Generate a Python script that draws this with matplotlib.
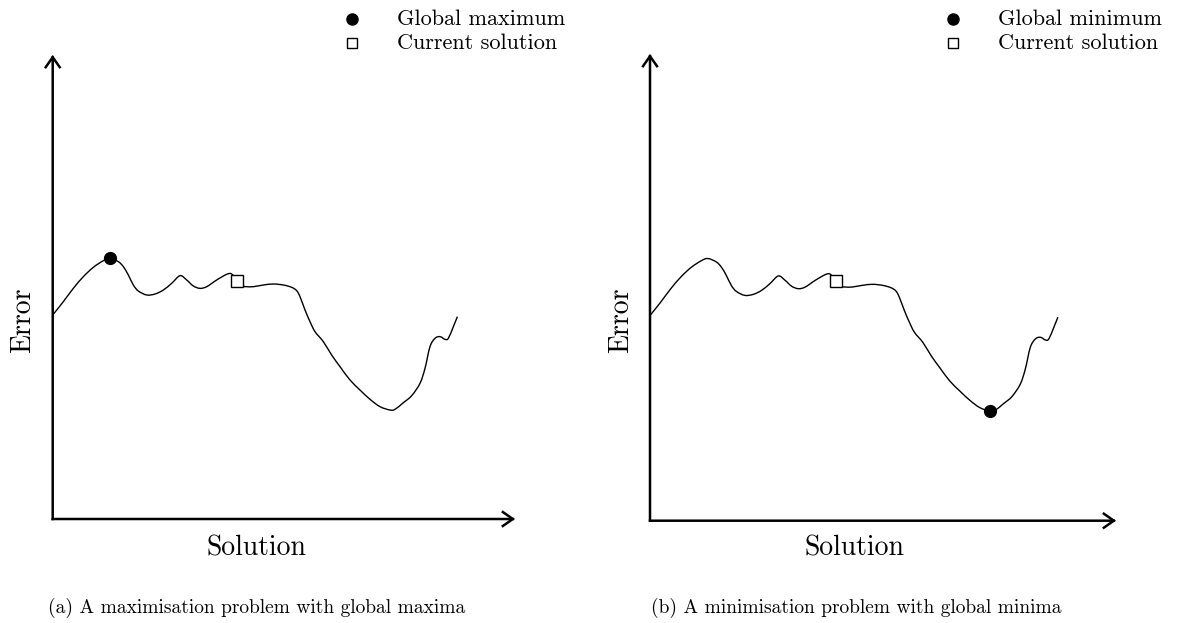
import matplotlib
matplotlib.use("Agg")
import matplotlib.pyplot as plt
from matplotlib.path import Path
from matplotlib.patches import PathPatch

plt.rcParams["font.family"] = ["cmr10", "DejaVu Serif"]
plt.rcParams["axes.formatter.use_mathtext"] = True

# Error landscape over the solution space (same curve in both panels)
solution = [0.00, 0.23, 0.446, 0.663, 0.879, 1.095, 1.239, 1.42, 1.528, 1.636,
            1.744, 1.852, 2.033, 2.213, 2.393, 2.573, 2.754, 2.898, 3.042, 3.186,
            3.331, 3.547, 3.763, 3.871, 3.994, 4.123, 4.196, 4.34, 4.556, 4.772,
            4.989, 5.169, 5.277, 5.349, 5.458, 5.566, 5.674, 5.854, 6.034, 6.215,
            6.431, 6.647, 6.864, 7.08, 7.296, 7.404, 7.585, 7.765, 7.945, 8.053,
            8.161, 8.27, 8.378, 8.486, 8.558, 8.666, 8.753]
error = [4.397, 4.684, 4.971, 5.223, 5.424, 5.567, 5.618, 5.546, 5.438, 5.259,
         5.043, 4.914, 4.828, 4.849, 4.935, 5.079, 5.244, 5.151, 5.022, 4.971,
         5.007, 5.151, 5.273, 5.280, 5.136, 5.022, 5.007, 5.007, 5.043, 5.065,
         5.043, 4.993, 4.921, 4.792, 4.504, 4.253, 4.037, 3.822, 3.534, 3.283,
         2.996, 2.780, 2.579, 2.421, 2.349, 2.364, 2.507, 2.658, 2.924, 3.247,
         3.714, 3.894, 3.930, 3.872, 3.894, 4.145, 4.361]

global_max = (1.239, 5.618)
global_min = (7.296, 2.349)
current_solution = (3.994, 5.136)

panels = [
    dict(rect=[0.04459, 0.16693, 0.39112, 0.74478], best=global_max,
         best_label="Global maximum",
         caption="(a) A maximisation problem with global maxima",
         legend_x=352, text_x=397, caption_x=257, error_x=23, solution_x=256),
    dict(rect=[0.54992, 0.16421, 0.39425, 0.74912], best=global_min,
         best_label="Global minimum",
         caption="(b) A minimisation problem with global minima",
         legend_x=953, text_x=998, caption_x=856, error_x=621, solution_x=855),
]


def smooth_path(xs, ys):
    """Bezier path passing through every point (Catmull-Rom tangents)."""
    pts = list(zip(xs, ys))
    verts = [pts[0]]
    codes = [Path.MOVETO]
    n = len(pts)
    for i in range(n - 1):
        p0 = pts[i - 1] if i > 0 else pts[i]
        p1 = pts[i]
        p2 = pts[i + 1]
        p3 = pts[i + 2] if i + 2 < n else pts[i + 1]
        c1 = (p1[0] + (p2[0] - p0[0]) / 6, p1[1] + (p2[1] - p0[1]) / 6)
        c2 = (p2[0] - (p3[0] - p1[0]) / 6, p2[1] - (p3[1] - p1[1]) / 6)
        verts += [c1, c2, p2]
        codes += [Path.CURVE4] * 3
    return Path(verts, codes)


W, H = 1182, 623
fig = plt.figure(figsize=(W / 100, H / 100), dpi=100)

arrow = dict(arrowstyle="->,head_length=0.4,head_width=0.28", lw=1.8,
             color="black", shrinkA=0, shrinkB=0, mutation_scale=18,
             capstyle="projecting", joinstyle="miter")

for p in panels:
    ax = fig.add_axes(p["rect"])
    ax.set_xlim(0, 10)
    ax.set_ylim(0, 10)
    ax.axis("off")

    # axes drawn as arrows from the origin
    ax.annotate("", xy=(10, 0), xytext=(0, 0), arrowprops=arrow,
                annotation_clip=False)
    ax.annotate("", xy=(0, 10), xytext=(0, 0), arrowprops=arrow,
                annotation_clip=False)

    ax.add_patch(PathPatch(smooth_path(solution, error), facecolor="none",
                           edgecolor="black", lw=1.0, clip_on=False))
    ax.plot(*p["best"], "o", color="black", ms=8.5, clip_on=False, zorder=5)
    ax.plot(*current_solution, "s", mfc="white", mec="black", mew=1.0,
            ms=8.5, clip_on=False, zorder=5)

    # axis titles
    fig.text(p["error_x"] / W, 1 - 320 / H, "Error", rotation=90,
             ha="center", va="center", fontsize=20)
    fig.text(p["solution_x"] / W, 1 - 548 / H, "Solution",
             ha="center", va="center", fontsize=20)

    # legend
    fig.lines.append(plt.Line2D([p["legend_x"] / W], [1 - 19 / H], marker="o",
                                color="black", ms=8, transform=fig.transFigure))
    fig.lines.append(plt.Line2D([p["legend_x"] / W], [1 - 43 / H], marker="s",
                                mfc="white", mec="black", mew=1.0, ms=7.5,
                                transform=fig.transFigure))
    fig.text(p["text_x"] / W, 1 - 19 / H, p["best_label"], ha="left",
             va="center", fontsize=16)
    fig.text(p["text_x"] / W, 1 - 43 / H, "Current solution", ha="left",
             va="center", fontsize=16)

    # caption
    fig.text(p["caption_x"] / W, 1 - 608 / H, p["caption"], ha="center",
             va="center", fontsize=14)

fig.savefig("out.png", dpi=100, facecolor="white")
